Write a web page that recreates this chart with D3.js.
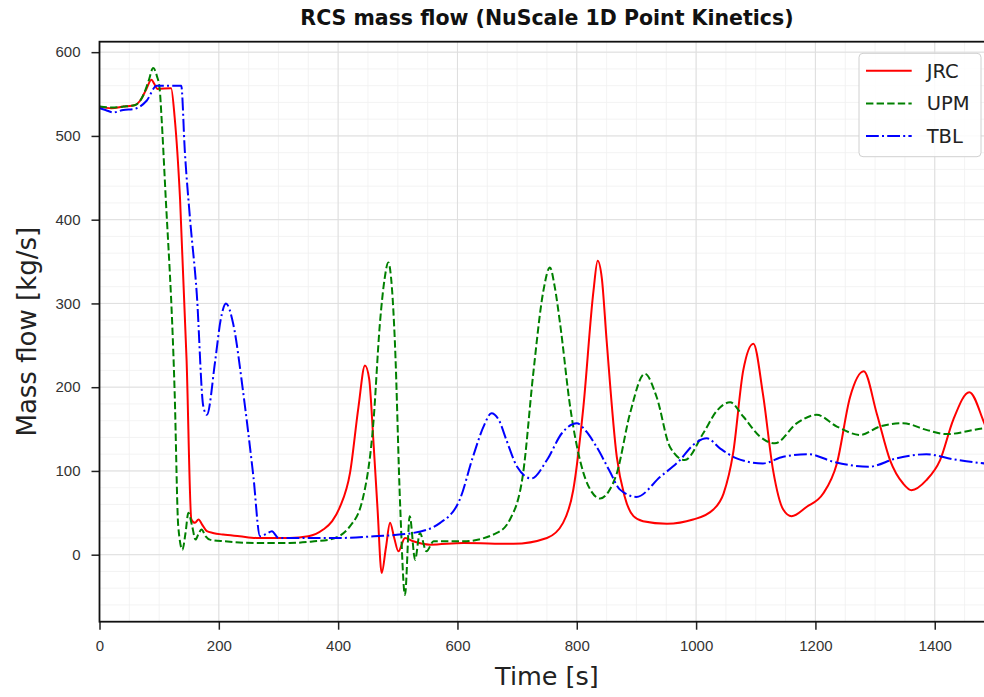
<!DOCTYPE html>
<html>
<head>
<meta charset="utf-8">
<script src="https://cdn.jsdelivr.net/npm/d3@7"></script>
<style>
  body { margin: 0; background: #fff; }
  svg { display: block; font-family: 'DejaVu Sans', sans-serif; }
  .ejes text { font-size: 15px; fill: #333; }
  .ejes path, .ejes line { stroke: #222; }
</style>
</head>
<body>
<div id="graf"></div>
<script>
const anchoTotal = 984
const altoTotal = 697

// JRC
const tJRC = [0, 20, 40, 60, 68, 78, 87, 92, 97, 120, 126, 135, 146, 154, 160, 166, 172, 180, 190, 207, 235, 263, 319, 350, 375, 390, 403, 420, 434, 445, 452, 459, 466, 473, 480, 487, 494, 501, 512, 526, 554, 610, 694, 750, 777, 794, 811, 828, 835, 842, 850, 867, 880, 895, 911, 951, 995, 1029, 1046, 1062, 1079, 1096, 1112, 1129, 1146, 1160, 1185, 1213, 1236, 1258, 1281, 1303, 1325, 1347, 1361, 1386, 1409, 1431, 1458, 1483, 1500]
const vJRC = [535, 533, 535, 537, 542, 555, 567, 562, 556, 557, 522, 425, 232, 42, 38, 42, 36, 28, 26, 24, 22, 20, 20, 22, 30, 40, 57, 98, 176, 226, 210, 137, 55, -22, 8, 38, 20, 4, 20, 16, 12, 14, 13, 20, 38, 77, 176, 315, 351, 330, 256, 117, 70, 46, 40, 37, 42, 54, 73, 121, 220, 252, 192, 101, 54, 46, 57, 73, 109, 188, 219, 168, 113, 85, 77, 89, 113, 161, 194, 157, 125]

// UPM
const tUPM = [0, 20, 40, 60, 73, 82, 90, 96, 101, 104, 110, 126, 132, 139, 144, 149, 155, 161, 166, 171, 178, 185, 210, 263, 319, 360, 386, 420, 442, 459, 470, 478, 484, 490, 495, 504, 512, 520, 529, 537, 548, 560, 610, 666, 688, 710, 727, 744, 755, 763, 772, 789, 811, 825, 839, 853, 867, 889, 914, 934, 956, 981, 1012, 1035, 1057, 1079, 1107, 1132, 1169, 1202, 1236, 1275, 1308, 1347, 1386, 1420, 1483, 1500]
const vUPM = [535, 534, 535, 537, 548, 565, 581, 572, 555, 522, 440, 193, 34, 6, 25, 50, 35, 18, 25, 30, 22, 18, 16, 14, 14, 16, 18, 34, 69, 157, 276, 330, 349, 320, 256, 58, -48, 46, -6, 26, 4, 16, 16, 26, 42, 97, 216, 315, 343, 320, 276, 176, 98, 75, 67, 75, 97, 168, 216, 188, 129, 113, 145, 172, 182, 165, 141, 133, 157, 167, 153, 143, 153, 157, 149, 144, 151, 152]

// TBL
const tTBL = [0, 10, 23, 40, 57, 79, 96, 120, 137, 143, 152, 163, 174, 180, 194, 203, 212, 224, 241, 258, 269, 280, 289, 300, 350, 403, 460, 526, 571, 604, 626, 645, 657, 670, 682, 700, 724, 750, 775, 800, 815, 833, 855, 872, 900, 940, 973, 995, 1018, 1040, 1068, 1112, 1146, 1188, 1230, 1289, 1336, 1386, 1431, 1483, 1500]
const vTBL = [533, 531, 528, 531, 532, 542, 560, 560, 560, 482, 399, 312, 177, 167, 232, 280, 300, 276, 193, 93, 22, 25, 28, 20, 20, 20, 22, 26, 38, 66, 117, 155, 169, 160, 137, 105, 91, 113, 145, 157, 148, 129, 100, 78, 69, 93, 113, 131, 139, 127, 115, 109, 117, 120, 111, 105, 115, 120, 114, 109, 108]

const series = [
  { name: 'JRC', t: tJRC, v: vJRC, color: '#ff0000', dash: null },
  { name: 'UPM', t: tUPM, v: vUPM, color: '#008000', dash: '7.4,3.2' },
  { name: 'TBL', t: tTBL, v: vTBL, color: '#0000ff', dash: '12.8,3.2,2,3.2' },
]

const margin = { top: 41.7, left: 99.5 }
const ancho = 894.9
const alto = 580

const svg = d3.select('#graf')
  .append('svg')
  .attr('width', anchoTotal)
  .attr('height', altoTotal)

const g = svg.append('g')
  .attr('transform', `translate(${margin.left}, ${margin.top})`)

const x = d3.scaleLinear().domain([0, 1500]).range([0, ancho])
const y = d3.scaleLinear().domain([-80, 612.5]).range([alto, 0])

const xMinor = d3.range(0, 1501, 50)
const yMinor = d3.range(-80, 612, 20)
const xMajor = d3.range(0, 1501, 200)
const yMajor = d3.range(0, 601, 100)

// grid
g.append('g').selectAll('line').data(xMinor).join('line')
  .attr('x1', d => x(d)).attr('x2', d => x(d)).attr('y1', 0).attr('y2', alto)
  .attr('stroke', '#f0f0f0').attr('stroke-width', 0.8)
g.append('g').selectAll('line').data(yMinor).join('line')
  .attr('y1', d => y(d)).attr('y2', d => y(d)).attr('x1', 0).attr('x2', ancho)
  .attr('stroke', '#f0f0f0').attr('stroke-width', 0.8)
g.append('g').selectAll('line').data(xMajor).join('line')
  .attr('x1', d => x(d)).attr('x2', d => x(d)).attr('y1', 0).attr('y2', alto)
  .attr('stroke', '#dedede').attr('stroke-width', 1)
g.append('g').selectAll('line').data(yMajor).join('line')
  .attr('y1', d => y(d)).attr('y2', d => y(d)).attr('x1', 0).attr('x2', ancho)
  .attr('stroke', '#dedede').attr('stroke-width', 1)

// curves
svg.append('defs').append('clipPath').attr('id', 'clip')
  .append('rect').attr('width', ancho).attr('height', alto)

const linea = d3.line()
  .x(d => x(d[0]))
  .y(d => y(d[1]))
  .curve(d3.curveMonotoneX)

const curvas = g.append('g').attr('clip-path', 'url(#clip)')
series.forEach(s => {
  curvas.append('path')
    .datum(s.t.map((t, i) => [t, s.v[i]]))
    .attr('d', linea)
    .attr('fill', 'none')
    .attr('stroke', s.color)
    .attr('stroke-width', 2)
    .attr('stroke-dasharray', s.dash)
    .attr('stroke-linejoin', 'round')
})

// axes
const fmt = d3.format('d')
const xAxisGroup = g.append('g').attr('class', 'ejes').attr('transform', `translate(0, ${alto})`)
xAxisGroup.call(d3.axisBottom(x).tickValues(xMinor).tickSize(5).tickSizeOuter(0).tickFormat(''))
xAxisGroup.call(d3.axisBottom(x).tickValues(xMajor).tickSize(8).tickSizeOuter(0).tickPadding(11).tickFormat(fmt))
xAxisGroup.selectAll('line').attr('stroke-width', 1.5)

const yAxisGroup = g.append('g').attr('class', 'ejes')
yAxisGroup.call(d3.axisLeft(y).tickValues(yMinor).tickSize(5).tickSizeOuter(0).tickFormat(''))
yAxisGroup.call(d3.axisLeft(y).tickValues(yMajor).tickSize(8).tickSizeOuter(0).tickPadding(11).tickFormat(fmt))
yAxisGroup.selectAll('line').attr('stroke-width', 1.5)

g.selectAll('.ejes path.domain').remove()
// spines
g.append('rect')
  .attr('width', ancho).attr('height', alto)
  .attr('fill', 'none').attr('stroke', '#111').attr('stroke-width', 1.8)

// legend
const leg = g.append('g').attr('transform', `translate(${859 - margin.left}, ${53.3 - margin.top})`)
leg.append('rect')
  .attr('width', 122).attr('height', 103.4).attr('rx', 4)
  .attr('fill', 'rgba(255,255,255,0.85)').attr('stroke', '#d0d0d0').attr('stroke-width', 1)
series.forEach((s, i) => {
  const yy = 17.4 + i * 32.7
  leg.append('line')
    .attr('x1', 7).attr('x2', 52.7).attr('y1', yy).attr('y2', yy)
    .attr('stroke', s.color).attr('stroke-width', 2)
    .attr('stroke-dasharray', s.dash)
  leg.append('text')
    .attr('x', 67.7).attr('y', yy + 7)
    .attr('font-size', 19.5).attr('fill', '#222')
    .text(s.name)
})

// titles
svg.append('text')
  .attr('x', margin.left + ancho / 2).attr('y', 25)
  .attr('text-anchor', 'middle')
  .attr('font-size', 20.5).attr('font-weight', 'bold').attr('fill', '#111')
  .text('RCS mass flow (NuScale 1D Point Kinetics)')

svg.append('text')
  .attr('x', margin.left + ancho / 2).attr('y', 685)
  .attr('text-anchor', 'middle')
  .attr('font-size', 25.5).attr('fill', '#222')
  .text('Time [s]')

svg.append('text')
  .attr('transform', `translate(36, ${margin.top + alto / 2}) rotate(-90)`)
  .attr('text-anchor', 'middle')
  .attr('font-size', 26).attr('fill', '#222')
  .text('Mass flow [kg/s]')
</script>
</body>
</html>
